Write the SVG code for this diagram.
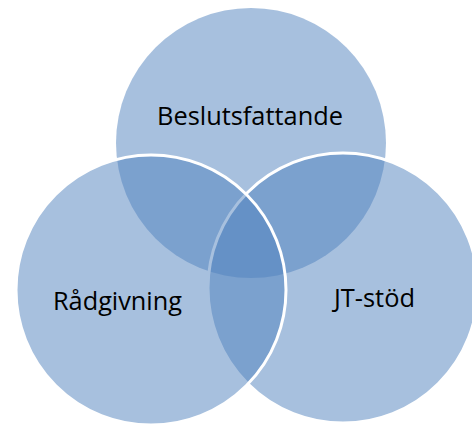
<svg xmlns="http://www.w3.org/2000/svg" width="472" height="427" viewBox="0 0 472 427">
<style>
.c{fill:#4F81BD;fill-opacity:0.5}
.s{stroke:#ffffff;stroke-width:3}
.t{font-family:"Open Sans","Noto Sans","Liberation Sans",sans-serif;font-size:25px;fill:#000000}
</style>
<rect width="472" height="427" fill="#ffffff"/>
<g id="connectors"></g>
<g id="beslutsfattande">
<circle class="c" cx="251" cy="143" r="135"/>
</g>
<g id="it-stod">
<circle class="c s" cx="343" cy="288" r="135"/>
</g>
<g id="radgivning">
<circle class="c s" cx="151" cy="290" r="135"/>
</g>
<g id="labels">
<text class="t" x="157" y="125" textLength="186" lengthAdjust="spacingAndGlyphs">Beslutsfattande</text>
<text class="t" x="53" y="310" textLength="129" lengthAdjust="spacingAndGlyphs">Rådgivning</text>
<text class="t" x="334" y="307" textLength="81" lengthAdjust="spacingAndGlyphs">JT-stöd</text>
</g>
</svg>
